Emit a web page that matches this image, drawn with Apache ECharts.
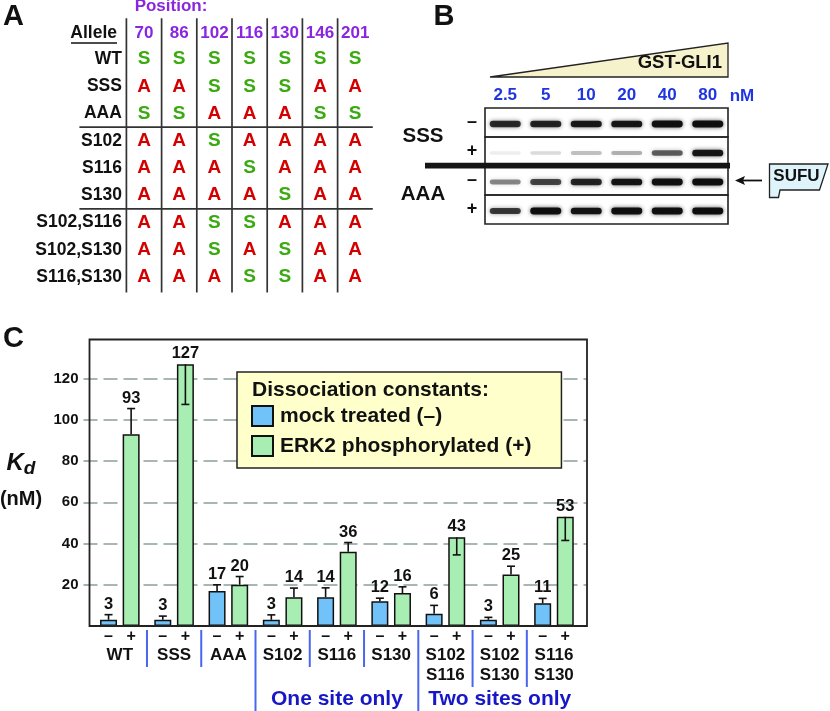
<!DOCTYPE html>
<html><head><meta charset="utf-8">
<script src="https://cdn.jsdelivr.net/npm/echarts@6/dist/echarts.min.js"></script>
<style>html,body{margin:0;padding:0;background:#fff}#c{width:830px;height:711px}</style>
</head><body><div id="c"></div>
<script>
// ---------------- Panel A data ----------------
const positions = ['70','86','102','116','130','146','201'];
const alleles = ['WT','SSS','AAA','S102','S116','S130','S102,S116','S102,S130','S116,S130'];
const residues = ['SSSSSSS','AASSSAA','SSAAASS','AASAAAA','AAASAAA','AAAASAA','AASSAAA','AASASAA','AAASSAA'];
const tableBlockStarts = [3, 6];

// ---------------- Panel B data ----------------
const concentrations = ['2.5','5','10','20','40','80'];
const blotRows = ['SSS –','SSS +','AAA –','AAA +'];
const bandIntensity = [
  [0.82,0.86,0.9,0.92,0.95,0.97],
  [0.07,0.14,0.24,0.3,0.6,0.92],
  [0.45,0.7,0.85,0.93,0.95,0.97],
  [0.75,0.97,0.93,0.96,0.96,0.97]
];

// ---------------- Panel C data ----------------
const categories = ['WT','SSS','AAA','S102','S116','S130','S102\nS116','S102\nS130','S116\nS130'];
const mockKd  = [3,3,17,3,14,12,6,3,11];
const mockErr = [2.5,1.8,3,2.4,4.5,1.5,4,1.2,2.4];
const erkKd   = [93,127,20,14,36,16,43,25,53];
// negative error = bar drawn downward inside the bar
const erkErr  = [12.5,-19.5,4,4.4,4.5,3,-8.5,4,-11.5];
const siteGroups = [
  {name:'One site only', from:3, to:5},
  {name:'Two sites only', from:6, to:8}
];
const legendTitle = 'Dissociation constants:';
const mockName = 'mock treated (–)';
const erkName = 'ERK2 phosphorylated (+)';

// ---------------- styles ----------------
const FONT = '"Liberation Sans", Arial, Helvetica, sans-serif';
const BLUE_BAR = '#72c2fa';
const GREEN_BAR = '#a8eeb2';
const GRID_GRAY = '#8c9e9c';
const SEP_BLUE = '#4a66f0';
const TEXT_BLUE = '#1717c8';
const PURPLE = '#8a25e0';
const S_GREEN = '#3aaa10';
const A_RED = '#d40000';
const barOffset = 11.3;

const chart = echarts.init(document.getElementById('c'), null, {renderer:'canvas'});

function txt(x, y, text, size, color, align, extra) {
  return Object.assign({
    type:'text', x:x, y:y, z:20,
    style:{text:text, fill:color||'#111', fontFamily:FONT, fontWeight:'bold', fontSize:size,
      align:align||'center', verticalAlign:'middle'}
  }, extra||{});
}

// Panel C series data
const errData = [];
categories.forEach((c,i)=>{
  errData.push([i, mockKd[i], mockErr[i], -1]);
  errData.push([i, erkKd[i], erkErr[i], 1]);
});
const sepData = [];
for (let k=0;k<categories.length-1;k++){
  let kind = 0;
  if (siteGroups.some(g=>g.from===k+1)) kind = 2;
  else if (categories[k].includes('\n') && categories[k+1].includes('\n')) kind = 1;
  sepData.push([k, kind]);
}
const tableData = [];
residues.forEach((r,i)=>{ for (let j=0;j<r.length;j++) tableData.push([j, i, r[j]==='S'?1:0]); });
const bandData = [];
bandIntensity.forEach((row,ri)=>row.forEach((v,li)=>bandData.push([li, ri, v])));

const option = {
  animation:false,
  backgroundColor:'#fff',
  textStyle:{fontFamily:FONT},
  grid:[
    {left:92.7, right:248.9, top:339.5, bottom:85},   // bars
    {left:89.5, right:243, top:339.5, bottom:85},     // frame + y axis
    {left:485, right:102, top:108, bottom:487},       // blot
    {left:126.4, right:457.2, top:45.4, bottom:420.4} // table
  ],
  legend:{
    left:237, top:372, orient:'vertical',
    data:[mockName, erkName],
    backgroundColor:'#ffffcc', borderColor:'#222', borderWidth:1.5,
    padding:[33, 30, 11, 14], itemGap:8, itemWidth:21, itemHeight:20,
    icon:'rect',
    textStyle:{fontFamily:FONT, fontWeight:'bold', fontSize:21, color:'#111', padding:[0,0,0,2]},
    selectedMode:false
  },
  xAxis:[
    {type:'category', gridIndex:0, data:categories, axisLine:{show:false}, axisTick:{show:false},
     axisLabel:{fontFamily:FONT, fontWeight:'bold', fontSize:17, color:'#111', lineHeight:19.5, margin:20, interval:0}},
    {type:'value', gridIndex:1, show:false, min:0, max:1},
    {type:'category', gridIndex:2, data:concentrations, position:'top', axisLine:{show:false}, axisTick:{show:false},
     axisLabel:{fontFamily:FONT, fontWeight:'bold', fontSize:17, color:'#1f35e0', margin:4}},
    {type:'category', gridIndex:3, data:positions, position:'top', axisLine:{show:false}, axisTick:{show:false},
     axisLabel:{fontFamily:FONT, fontWeight:'bold', fontSize:17, color:PURPLE, margin:3.5, interval:0}}
  ],
  yAxis:[
    {type:'value', gridIndex:0, min:0, max:139, interval:20, show:false},
    {type:'value', gridIndex:1, min:0, max:139, interval:20,
     axisLine:{show:false},
     axisTick:{show:true, length:6, lineStyle:{color:GRID_GRAY, width:1.6}},
     axisLabel:{fontFamily:FONT, fontWeight:'bold', fontSize:15, color:'#111', margin:11, showMinLabel:false, showMaxLabel:false},
     splitLine:{show:true, showMinLine:false, showMaxLine:false,
       lineStyle:{color:GRID_GRAY, width:1.6, type:[14,6], dashOffset:6}}},
    {type:'category', gridIndex:2, data:blotRows, inverse:true, show:false},
    {type:'category', gridIndex:3, data:alleles, inverse:true, axisLine:{show:false}, axisTick:{show:false},
     axisLabel:{fontFamily:FONT, fontWeight:'bold', fontSize:17.5, color:'#111', margin:4.5, interval:0}}
  ],
  series:[
    {name:mockName, type:'bar', xAxisIndex:0, yAxisIndex:0, data:mockKd, barWidth:17, barGap:'33%',
     itemStyle:{color:BLUE_BAR, borderColor:'#111', borderWidth:1.5}, z:3},
    {name:erkName, type:'bar', xAxisIndex:0, yAxisIndex:0, data:erkKd, barWidth:17, barGap:'33%',
     itemStyle:{color:GREEN_BAR, borderColor:'#111', borderWidth:1.5}, z:3},
    // error bars, value labels and -/+ marks
    {type:'custom', xAxisIndex:0, yAxisIndex:0, data:errData, encode:{x:0,y:1}, z:5, clip:false,
     renderItem:function(params, api){
       const i=api.value(0), v=api.value(1), e=api.value(2), side=api.value(3);
       const top=api.coord([i,v]);
       const x=top[0]+side*barOffset;
       const yTop=top[1];
       const yEnd=api.coord([i,v+e])[1];
       const y0=api.coord([i,0])[1];
       const lbl=Math.min(yTop,yEnd)-2;
       const ls={stroke:'#111', lineWidth:1.6};
       return {type:'group', children:[
         {type:'line', shape:{x1:x,y1:yTop,x2:x,y2:yEnd}, style:ls},
         {type:'line', shape:{x1:x-4,y1:yEnd,x2:x+4,y2:yEnd}, style:ls},
         {type:'text', x:x, y:lbl, style:{text:String(v), fill:'#111', fontFamily:FONT, fontWeight:'bold', fontSize:16.5, align:'center', verticalAlign:'bottom'}},
         {type:'text', x:x, y:y0+10.5, style:{text:side<0?'–':'+', fill:'#111', fontFamily:FONT, fontWeight:'bold', fontSize:16, align:'center', verticalAlign:'middle'}}
       ]};
     }},
    // blue separators under the axis
    {type:'custom', xAxisIndex:0, yAxisIndex:0, data:sepData, z:5, clip:false, silent:true,
     renderItem:function(params, api){
       const k=api.value(0), kind=api.value(1);
       const a=api.coord([k,0]), b=api.coord([k+1,0]);
       const x=(a[0]+b[0])/2, y0=a[1]+4;
       const len=[37,57,90][kind];
       return {type:'line', shape:{x1:x,y1:y0,x2:x,y2:y0+len}, style:{stroke:SEP_BLUE, lineWidth:2}};
     }},
    // group captions
    {type:'custom', xAxisIndex:0, yAxisIndex:0, data:siteGroups.map(g=>[g.from,g.to]), z:5, clip:false, silent:true,
     renderItem:function(params, api){
       const a=api.coord([api.value(0),0]), b=api.coord([api.value(1),0]);
       return {type:'text', x:(a[0]+b[0])/2, y:a[1]+73, style:{text:siteGroups[params.dataIndex].name, fill:TEXT_BLUE,
         fontFamily:FONT, fontWeight:'bold', fontSize:21, align:'center', verticalAlign:'middle'}};
     }},
    // blot strips, signs and allele labels
    {type:'custom', xAxisIndex:2, yAxisIndex:2, data:blotRows.map((r,i)=>[0,i]), z:2, clip:false, silent:true,
     renderItem:function(params, api){
       const r=api.value(1);
       const c0=api.coord([0,r]), c5=api.coord([concentrations.length-1,r]);
       const lw=api.size([1,0])[0], rh=api.size([0,1])[1];
       const left=c0[0]-lw/2, right=c5[0]+lw/2, top=c0[1]-rh/2;
       const label=blotRows[r].split(' ');
       const ch=[
         {type:'rect', shape:{x:left,y:top,width:right-left,height:rh}, style:{fill:'none', stroke:'#222', lineWidth:1.6}},
         {type:'text', x:left-13, y:c0[1], style:{text:label[1], fill:'#111', fontFamily:FONT, fontWeight:'bold', fontSize:18, align:'center', verticalAlign:'middle'}}
       ];
       if (r%2===0) ch.push({type:'text', x:left-62, y:top+rh-1, style:{text:label[0], fill:'#111', fontFamily:FONT, fontWeight:'bold', fontSize:20.5, align:'center', verticalAlign:'middle'}});
       if (r>0 && label[0]!==blotRows[r-1].split(' ')[0]) ch.push({type:'rect', shape:{x:left-60,y:top-3.2,width:right-left+62,height:5.8}, style:{fill:'#151515'}});
       return {type:'group', children:ch};
     }},
    // blot bands
    {type:'custom', xAxisIndex:2, yAxisIndex:2, data:bandData, z:3, silent:true,
     renderItem:function(params, api){
       const c=api.coord([api.value(0), api.value(1)]);
       const v=api.value(2);
       const w=31, h=3+4*v;
       return {type:'rect', shape:{x:c[0]-w/2, y:c[1]-h/2+1.5, width:w, height:h, r:h/2},
         style:{fill:'rgba(10,10,10,'+v.toFixed(2)+')', shadowBlur:4, shadowColor:'rgba(0,0,0,'+(v*0.7).toFixed(2)+')'}};
     }},
    // table cells
    {type:'custom', xAxisIndex:3, yAxisIndex:3, data:tableData, z:3, silent:true,
     renderItem:function(params, api){
       const c=api.coord([api.value(0), api.value(1)]);
       const s=api.value(2)===1;
       return {type:'text', x:c[0], y:c[1], style:{text:s?'S':'A', fill:s?S_GREEN:A_RED, fontFamily:FONT, fontWeight:'bold', fontSize:19, align:'center', verticalAlign:'middle'}};
     }},
    // table vertical rules
    {type:'custom', xAxisIndex:3, yAxisIndex:3, data:positions.map((p,j)=>[j,0]), z:2, silent:true, clip:false,
     renderItem:function(params, api){
       const c=api.coord([api.value(0),0]);
       const cw=api.size([1,0])[0], rh=api.size([0,1])[1];
       const last=api.coord([0,alleles.length-1]);
       const x=c[0]-cw/2;
       return {type:'line', shape:{x1:x,y1:c[1]-rh*1.5,x2:x,y2:last[1]+rh/2+2}, style:{stroke:'#333', lineWidth:1.7}};
     }},
    // table horizontal rules
    {type:'custom', xAxisIndex:3, yAxisIndex:3, data:tableBlockStarts.map(r=>[0,r]), z:2, silent:true, clip:false,
     renderItem:function(params, api){
       const c=api.coord([0,api.value(1)]);
       const e=api.coord([positions.length-1,api.value(1)]);
       const cw=api.size([1,0])[0], rh=api.size([0,1])[1];
       const y=c[1]-rh/2;
       return {type:'line', shape:{x1:c[0]-cw/2-47,y1:y,x2:e[0]+cw/2,y2:y}, style:{stroke:'#333', lineWidth:1.7}};
     }}
  ],
  graphic:[
    // panel letters
    txt(13.5, 17, 'A', 29, '#111'),
    txt(444, 17, 'B', 29, '#111'),
    txt(13.5, 338.5, 'C', 29, '#111'),
    // panel A headers
    txt(171, 6.5, 'Position:', 17, PURPLE),
    txt(117, 33.5, 'Allele', 17.5, '#111', 'right'),
    {type:'line', z:20, shape:{x1:71,y1:43,x2:117,y2:43}, style:{stroke:'#111', lineWidth:1.6}},
    // panel B decorations
    {type:'polygon', z:10, shape:{points:[[490,77],[728,43],[728,77]]}, style:{fill:'#f6f2cc', stroke:'#222', lineWidth:1.3}},
    txt(722, 63, 'GST-GLI1', 18.5, '#111', 'right'),
    txt(742, 96, 'nM', 17, '#1f35e0'),
    {type:'line', z:20, shape:{x1:762,y1:180.5,x2:738,y2:180.5}, style:{stroke:'#111', lineWidth:1.8}},
    {type:'polygon', z:20, shape:{points:[[735,180.5],[745,176],[743,180.5],[745,185]]}, style:{fill:'#111'}},
    {type:'polygon', z:20, shape:{points:[[769.5,164],[828,164],[819.5,190],[780,190],[778.5,197.5],[769.5,197.5]]},
     style:{fill:'#dff3fa', stroke:'#222', lineWidth:1.3}},
    txt(796.5, 176.5, 'SUFU', 17, '#111'),
    // legend title
    txt(252, 390, legendTitle, 21, '#111', 'left'),
    // panel C frame
    {type:'rect', z:6, shape:{x:89.5,y:339.5,width:497.5,height:286.5}, style:{fill:'none', stroke:'#222', lineWidth:1.8}},
    // y axis title
    {type:'text', z:20, x:21, y:463, style:{text:'{k|K}{d|d}', align:'center', verticalAlign:'middle',
      rich:{k:{fontFamily:FONT, fontWeight:'bold', fontStyle:'italic', fontSize:24, fill:'#111'},
            d:{fontFamily:FONT, fontWeight:'bold', fontStyle:'italic', fontSize:19, fill:'#111', padding:[12,0,0,0]}}}},
    txt(21, 499, '(nM)', 20, '#111')
  ]
};
chart.setOption(option);
</script>
</body></html>
